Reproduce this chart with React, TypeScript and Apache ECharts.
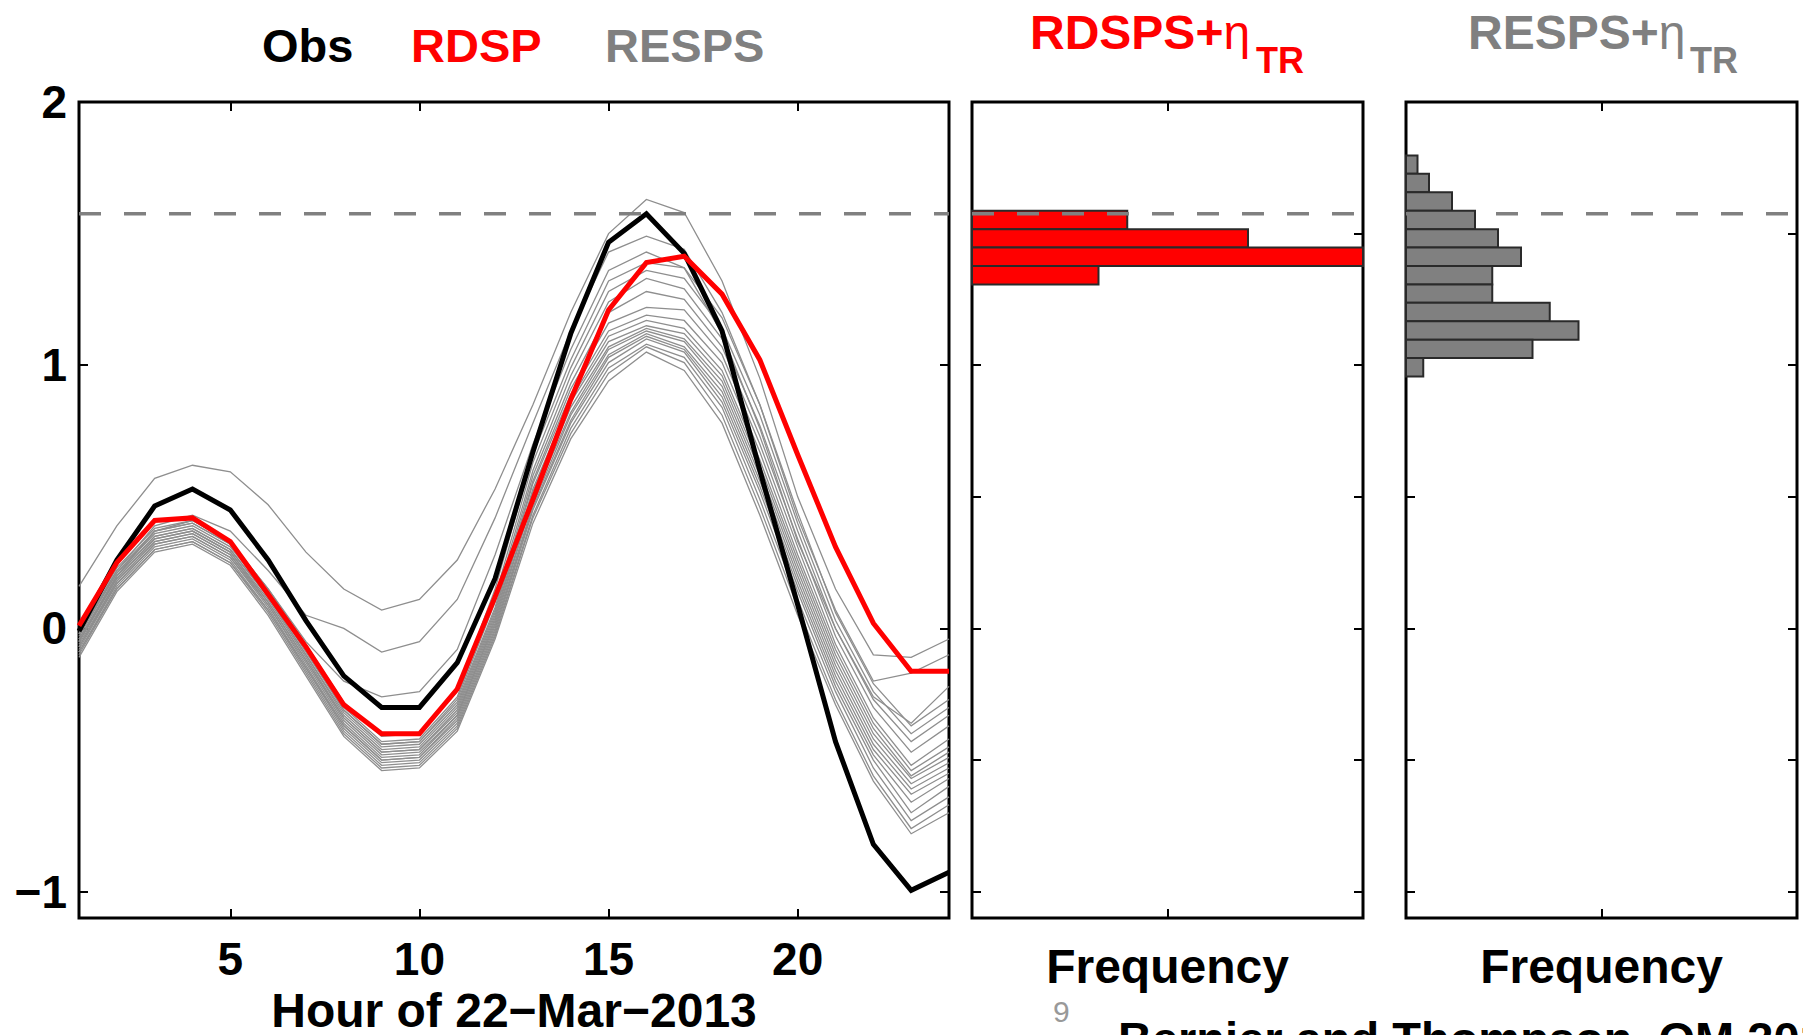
import React, { useEffect, useRef } from "react";
import * as echarts from "echarts";

// ---------------- data ----------------
const hours = [1, 2, 3, 4, 5, 6, 7, 8, 9, 10, 11, 12, 13, 14, 15, 16, 17, 18, 19, 20, 21, 22, 23, 24];

const obs = [-0.01, 0.26, 0.465, 0.53, 0.45, 0.26, 0.03, -0.18, -0.3, -0.3, -0.13, 0.19, 0.67, 1.12, 1.467, 1.575, 1.425, 1.13, 0.6, 0.09, -0.43, -0.82, -0.995, -0.926];

const rdsp = [0.01, 0.25, 0.41, 0.42, 0.33, 0.13, -0.07, -0.29, -0.4, -0.4, -0.23, 0.12, 0.49, 0.87, 1.21, 1.39, 1.414, 1.27, 1.02, 0.66, 0.31, 0.02, -0.163, -0.163];

// RESPS ensemble members, one row per hour (19 members per row)
const respsByHour = [
  [0.16, -0.02, -0.05, -0.11, -0.1, -0.09, -0.09, -0.08, -0.07, -0.07, -0.06, -0.05, -0.05, -0.04, -0.04, -0.03, -0.02, -0.02, -0.01],
  [0.39, 0.22, 0.2, 0.14, 0.15, 0.15, 0.16, 0.17, 0.17, 0.18, 0.18, 0.19, 0.19, 0.2, 0.2, 0.21, 0.21, 0.22, 0.23],
  [0.57, 0.39, 0.37, 0.29, 0.3, 0.3, 0.31, 0.32, 0.32, 0.33, 0.33, 0.34, 0.34, 0.35, 0.35, 0.36, 0.37, 0.37, 0.38],
  [0.62, 0.43, 0.41, 0.32, 0.33, 0.33, 0.34, 0.35, 0.35, 0.36, 0.36, 0.37, 0.37, 0.38, 0.38, 0.39, 0.4, 0.4, 0.41],
  [0.595, 0.37, 0.33, 0.24, 0.25, 0.25, 0.26, 0.27, 0.27, 0.28, 0.28, 0.29, 0.29, 0.3, 0.3, 0.31, 0.32, 0.32, 0.33],
  [0.47, 0.22, 0.15, 0.05, 0.06, 0.07, 0.07, 0.08, 0.09, 0.09, 0.1, 0.1, 0.11, 0.12, 0.12, 0.13, 0.14, 0.14, 0.15],
  [0.29, 0.05, -0.05, -0.18, -0.17, -0.16, -0.15, -0.15, -0.14, -0.13, -0.12, -0.12, -0.11, -0.1, -0.1, -0.09, -0.08, -0.07, -0.06],
  [0.15, 0.0, -0.2, -0.41, -0.4, -0.39, -0.38, -0.37, -0.37, -0.36, -0.35, -0.34, -0.34, -0.33, -0.32, -0.31, -0.31, -0.3, -0.28],
  [0.07, -0.09, -0.26, -0.54, -0.53, -0.52, -0.51, -0.5, -0.5, -0.49, -0.48, -0.47, -0.47, -0.46, -0.45, -0.44, -0.44, -0.43, -0.41],
  [0.11, -0.05, -0.24, -0.53, -0.52, -0.51, -0.5, -0.49, -0.49, -0.48, -0.47, -0.46, -0.46, -0.45, -0.44, -0.43, -0.43, -0.42, -0.4],
  [0.26, 0.11, -0.08, -0.39, -0.38, -0.37, -0.36, -0.35, -0.34, -0.33, -0.33, -0.32, -0.31, -0.3, -0.29, -0.28, -0.27, -0.26, -0.24],
  [0.53, 0.42, 0.28, -0.04, -0.03, -0.02, -0.01, 0.0, 0.01, 0.02, 0.03, 0.04, 0.05, 0.06, 0.07, 0.08, 0.1, 0.12, 0.15],
  [0.85, 0.78, 0.7, 0.4, 0.42, 0.43, 0.45, 0.46, 0.47, 0.49, 0.5, 0.52, 0.53, 0.55, 0.56, 0.58, 0.6, 0.63, 0.66],
  [1.2, 1.13, 1.06, 0.72, 0.74, 0.76, 0.78, 0.79, 0.81, 0.82, 0.84, 0.86, 0.87, 0.89, 0.91, 0.93, 0.96, 0.99, 1.02],
  [1.5, 1.43, 1.36, 0.94, 0.97, 0.99, 1.01, 1.03, 1.04, 1.06, 1.07, 1.09, 1.11, 1.13, 1.16, 1.2, 1.24, 1.28, 1.32],
  [1.63, 1.49, 1.43, 1.05, 1.07, 1.08, 1.1, 1.11, 1.12, 1.13, 1.14, 1.15, 1.17, 1.19, 1.22, 1.28, 1.33, 1.36, 1.39],
  [1.58, 1.44, 1.37, 0.98, 1.01, 1.03, 1.05, 1.06, 1.07, 1.09, 1.1, 1.12, 1.14, 1.17, 1.21, 1.25, 1.29, 1.33, 1.37],
  [1.32, 1.2, 1.12, 0.78, 0.81, 0.84, 0.86, 0.88, 0.9, 0.92, 0.94, 0.96, 0.98, 1.01, 1.04, 1.07, 1.1, 1.14, 1.18],
  [0.95, 0.85, 0.76, 0.43, 0.46, 0.49, 0.52, 0.54, 0.56, 0.58, 0.6, 0.62, 0.64, 0.67, 0.7, 0.73, 0.77, 0.81, 0.85],
  [0.5, 0.42, 0.33, 0.05, 0.08, 0.11, 0.14, 0.16, 0.18, 0.2, 0.22, 0.24, 0.26, 0.28, 0.31, 0.34, 0.37, 0.4, 0.44],
  [0.15, 0.07, 0.0, -0.29, -0.27, -0.24, -0.22, -0.2, -0.18, -0.16, -0.14, -0.12, -0.1, -0.08, -0.06, -0.03, 0.0, 0.03, 0.06],
  [-0.1, -0.2, -0.26, -0.58, -0.56, -0.53, -0.5, -0.48, -0.46, -0.44, -0.42, -0.4, -0.38, -0.36, -0.34, -0.3, -0.27, -0.24, -0.21],
  [-0.11, -0.17, -0.36, -0.78, -0.76, -0.73, -0.7, -0.66, -0.63, -0.61, -0.59, -0.57, -0.56, -0.54, -0.52, -0.47, -0.43, -0.4, -0.37],
  [-0.04, -0.1, -0.22, -0.7, -0.67, -0.64, -0.6, -0.57, -0.55, -0.53, -0.51, -0.49, -0.47, -0.45, -0.42, -0.37, -0.33, -0.3, -0.27],
];

// histogram bins (centres of the peak-value bins) and counts
const histBinCenters = [1.762, 1.692, 1.622, 1.552, 1.482, 1.412, 1.342, 1.272, 1.202, 1.132, 1.062, 0.992];
const histBinWidth = 0.07;
const rdspsCounts = [0, 0, 0, 27, 48, 80, 22, 0, 0, 0, 0, 0];
const respsCounts = [2, 4, 8, 12, 16, 20, 15, 15, 25, 30, 22, 3];
const histMax = 68;

// axis ranges and ticks
const yMin = -1.1;
const yMax = 2;
const xMin = 1;
const xMax = 24;
const mainXTicks = [5, 10, 15, 20];
const mainYTicks = [-1, 0, 1];
const mainYLabels = [-1, 0, 1, 2];
const histYTicks = [-1, -0.5, 0, 0.5, 1, 1.5];
const histXTicks = [34];

// ---------------- styles ----------------
const FONT = "'Liberation Sans', Arial, Helvetica, sans-serif";
const RED = "#ff0000";
const GREY = "#808080";

const tickStyle = { color: "#000", width: 2 };

function axisBase(extra: any) {
  return {
    type: "value",
    axisLine: { show: false, onZero: false },
    splitLine: { show: false },
    axisPointer: { show: false },
    ...extra,
  };
}

function buildOption() {
  const obsMax = Math.max(...obs);
  const members = respsByHour[0].map((_, m) => respsByHour.map((row) => row[m]));

  const grids = [
    { left: 79, top: 102, width: 870, height: 816 },
    { left: 972, top: 102, width: 391, height: 816 },
    { left: 1406, top: 102, width: 391, height: 816 },
  ].map((g) => ({
    ...g,
    show: true,
    borderColor: "#000",
    borderWidth: 3,
    backgroundColor: "rgba(0,0,0,0)",
    containLabel: false,
    outerBoundsMode: "none",
  }));

  const labelFont = { fontFamily: FONT, fontWeight: "bold", fontSize: 46, color: "#000" };

  const xAxis: any[] = [
    axisBase({
      gridIndex: 0, position: "bottom", min: xMin, max: xMax,
      axisTick: { show: true, inside: true, length: 9, customValues: mainXTicks, lineStyle: tickStyle },
      axisLabel: { show: true, customValues: mainXTicks, margin: 18, ...labelFont },
      name: "Hour of 22\u2212Mar\u22122013", nameLocation: "middle", nameGap: 66,
      nameTextStyle: { fontFamily: FONT, fontWeight: "bold", fontSize: 48, lineHeight: 46, color: "#000" },
    }),
    axisBase({
      gridIndex: 0, position: "top", min: xMin, max: xMax,
      axisTick: { show: true, inside: true, length: 9, customValues: mainXTicks, lineStyle: tickStyle },
      axisLabel: { show: false },
    }),
    axisBase({
      gridIndex: 1, position: "bottom", min: 0, max: histMax,
      axisTick: { show: true, inside: true, length: 9, customValues: histXTicks, lineStyle: tickStyle },
      axisLabel: { show: false },
      name: "Frequency", nameLocation: "middle", nameGap: 24,
      nameTextStyle: { fontFamily: FONT, fontWeight: "bold", fontSize: 48, color: "#000" },
    }),
    axisBase({
      gridIndex: 1, position: "top", min: 0, max: histMax,
      axisTick: { show: true, inside: true, length: 9, customValues: histXTicks, lineStyle: tickStyle },
      axisLabel: { show: false },
    }),
    axisBase({
      gridIndex: 2, position: "bottom", min: 0, max: histMax,
      axisTick: { show: true, inside: true, length: 9, customValues: histXTicks, lineStyle: tickStyle },
      axisLabel: { show: false },
      name: "Frequency", nameLocation: "middle", nameGap: 24,
      nameTextStyle: { fontFamily: FONT, fontWeight: "bold", fontSize: 48, color: "#000" },
    }),
    axisBase({
      gridIndex: 2, position: "top", min: 0, max: histMax,
      axisTick: { show: true, inside: true, length: 9, customValues: histXTicks, lineStyle: tickStyle },
      axisLabel: { show: false },
    }),
  ];

  const yAxis: any[] = [
    axisBase({
      gridIndex: 0, position: "left", min: yMin, max: yMax,
      axisTick: { show: true, inside: true, length: 9, customValues: mainYTicks, lineStyle: tickStyle },
      axisLabel: {
        show: true, customValues: mainYLabels, margin: 12, ...labelFont,
        formatter: (v: number) => (v < 0 ? "\u2212" + Math.abs(v) : String(v)),
      },
    }),
    axisBase({
      gridIndex: 0, position: "right", min: yMin, max: yMax,
      axisTick: { show: true, inside: true, length: 9, customValues: mainYTicks, lineStyle: tickStyle },
      axisLabel: { show: false },
    }),
    ...[1, 2].flatMap((gi) => [
      axisBase({
        gridIndex: gi, position: "left", min: yMin, max: yMax,
        axisTick: { show: true, inside: true, length: 9, customValues: histYTicks, lineStyle: tickStyle },
        axisLabel: { show: false },
      }),
      axisBase({
        gridIndex: gi, position: "right", min: yMin, max: yMax,
        axisTick: { show: true, inside: true, length: 9, customValues: histYTicks, lineStyle: tickStyle },
        axisLabel: { show: false },
      }),
    ]),
  ];

  const lineSeries = (data: number[], color: string, width: number, z: number) => ({
    type: "line",
    xAxisIndex: 0,
    yAxisIndex: 0,
    data: hours.map((h, i) => [h, data[i]]),
    showSymbol: false,
    symbol: "none",
    silent: true,
    z,
    lineStyle: { color, width, join: "miter" },
  });

  const histSeries = (counts: number[], fill: string, axisIdx: number) => ({
    type: "custom",
    xAxisIndex: axisIdx,
    yAxisIndex: axisIdx,
    silent: true,
    z: 3,
    data: histBinCenters.map((c, i) => [c, counts[i]]).filter((d) => d[1] > 0),
    encode: { x: 1, y: 0 },
    renderItem: (params: any, api: any) => {
      const center = api.value(0);
      const count = api.value(1);
      const p0 = api.coord([0, center + histBinWidth / 2]);
      const p1 = api.coord([count, center - histBinWidth / 2]);
      const cs = params.coordSys;
      const right = Math.min(p1[0], cs.x + cs.width);
      return {
        type: "rect",
        shape: { x: p0[0], y: p0[1], width: right - p0[0], height: p1[1] - p0[1] },
        style: { fill, stroke: "#2a2a2a", lineWidth: 2 },
      };
    },
  });

  const dashed = (axisIdx: number, x0: number, x1: number) => ({
    type: "line",
    xAxisIndex: axisIdx,
    yAxisIndex: axisIdx,
    data: [[x0, obsMax], [x1, obsMax]],
    showSymbol: false,
    symbol: "none",
    silent: true,
    z: 6,
    lineStyle: { color: GREY, width: 3.5, type: [22, 23] },
  });

  const series: any[] = [
    ...members.map((m) => lineSeries(m, "#8e8e8e", 1.3, 2)),
    lineSeries(obs, "#000000", 5, 3),
    lineSeries(rdsp, RED, 5, 4),
    histSeries(rdspsCounts, RED, 2),
    histSeries(respsCounts, GREY, 4),
    dashed(0, xMin, xMax),
    dashed(2, 0, histMax),
    dashed(4, 0, histMax),
  ];

  const titleText = (text: string, x: number, fill: string) => ({
    type: "text",
    x,
    y: 45,
    silent: true,
    style: {
      text,
      fill,
      fontFamily: FONT,
      fontWeight: "bold",
      fontSize: 47,
      textAlign: "left",
      textVerticalAlign: "middle",
    },
  });

  const histTitle = (main: string, x: number, subX: number, fill: string) => [
    {
      type: "text",
      x,
      y: 32,
      silent: true,
      style: {
        text: "{b|" + main + "}{e|\u03b7}",
        fill,
        textAlign: "left",
        textVerticalAlign: "middle",
        rich: {
          b: { fontFamily: FONT, fontWeight: "bold", fontSize: 48, fill },
          e: { fontFamily: FONT, fontWeight: "normal", fontSize: 48, fill },
        },
      },
    },
    {
      type: "text",
      x: subX,
      y: 60,
      silent: true,
      style: {
        text: "TR",
        fill,
        fontFamily: FONT,
        fontWeight: "bold",
        fontSize: 36,
        textAlign: "left",
        textVerticalAlign: "middle",
      },
    },
  ];

  const graphic: any[] = [
    titleText("Obs", 262, "#000000"),
    titleText("RDSP", 411, RED),
    titleText("RESPS", 605, GREY),
    ...histTitle("RDSPS+", 1030, 1256, RED),
    ...histTitle("RESPS+", 1468, 1690, GREY),
    {
      type: "text",
      x: 1053,
      y: 1011,
      silent: true,
      style: {
        text: "9",
        fill: "#999999",
        fontFamily: FONT,
        fontWeight: "normal",
        fontSize: 30,
        textAlign: "left",
        textVerticalAlign: "middle",
      },
    },
    {
      type: "text",
      x: 1118,
      y: 1038,
      silent: true,
      style: {
        text: "Bernier and Thompson, OM 2015",
        fill: "#000000",
        fontFamily: FONT,
        fontWeight: "bold",
        fontSize: 47,
        textAlign: "left",
        textVerticalAlign: "middle",
      },
    },
  ];

  return {
    animation: false,
    backgroundColor: "#ffffff",
    textStyle: { fontFamily: FONT },
    grid: grids,
    xAxis,
    yAxis,
    series,
    graphic,
  };
}

export default function App() {
  const ref = useRef<HTMLDivElement>(null);
  useEffect(() => {
    if (!ref.current) return;
    const chart = echarts.init(ref.current, null, { renderer: "svg" });
    chart.setOption(buildOption() as any);
    return () => {
      chart.dispose();
    };
  }, []);
  return (
    <div
      ref={ref}
      style={{ position: "absolute", left: 0, top: 0, width: 1803, height: 1035, background: "#ffffff" }}
    />
  );
}
